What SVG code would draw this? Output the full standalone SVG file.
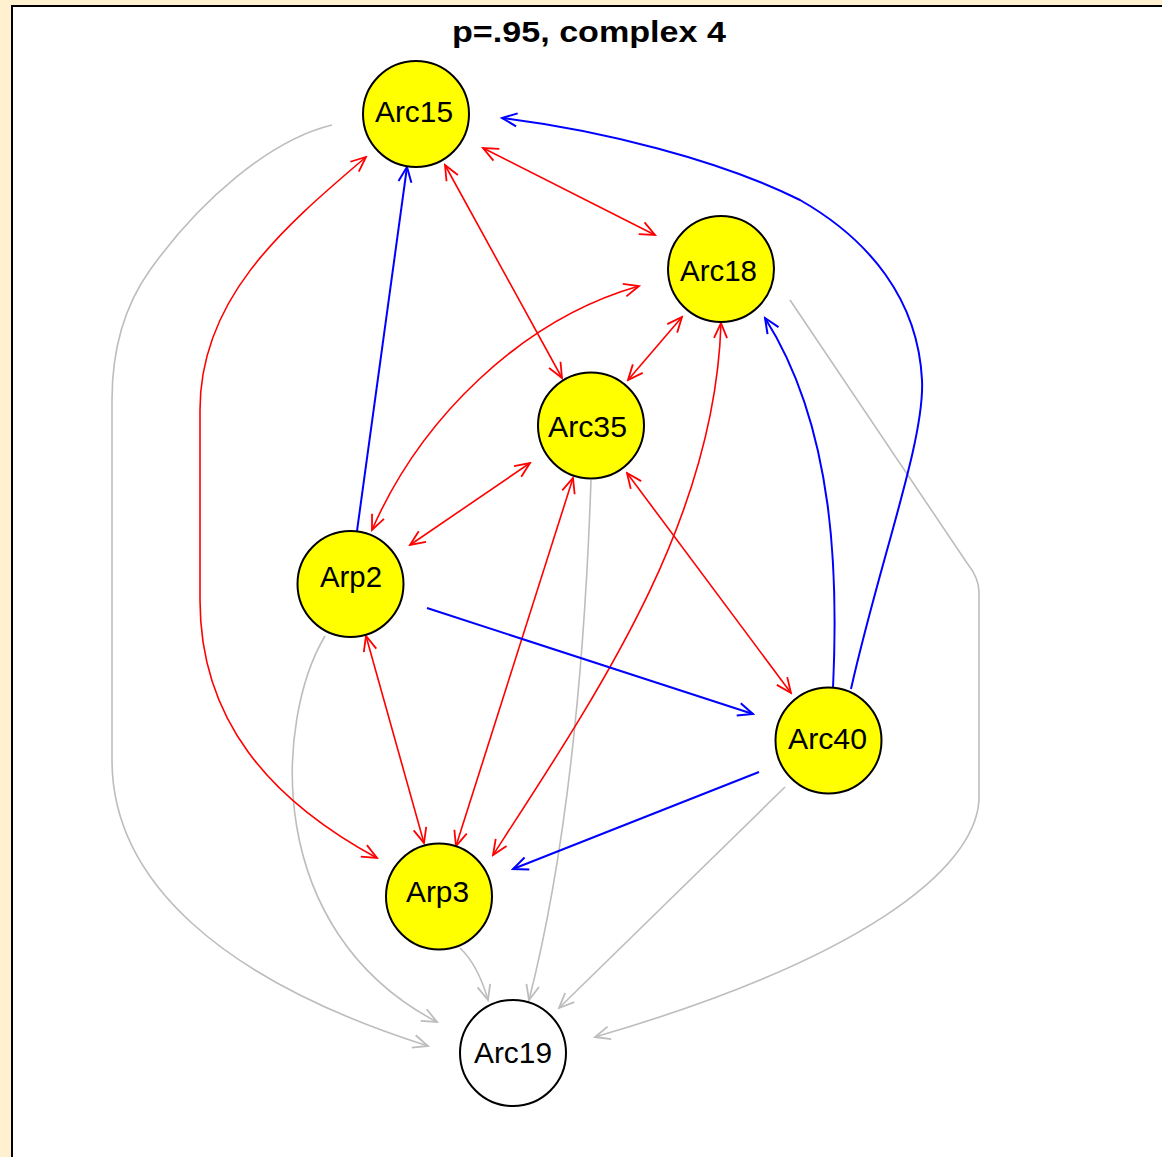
<svg xmlns="http://www.w3.org/2000/svg" width="1162" height="1157" viewBox="0 0 1162 1157">
  <style>
    .edge { fill: none; }
    .red { stroke: #ff0000; stroke-width: 1.6; }
    .blue { stroke: #0000ff; stroke-width: 2; }
    .grey { stroke: #bdbdbd; stroke-width: 1.6; }
    .red.both { marker-start: url(#ahRed); marker-end: url(#ahRed); }
    .blue { marker-end: url(#ahBlue); }
    .grey { marker-end: url(#ahGrey); }
    .node circle { stroke: #000000; stroke-width: 2; }
    .hit circle { fill: #ffff00; }
    .miss circle { fill: #ffffff; }
    .node text { font-family: "Liberation Sans", Arial, sans-serif; font-size: 30px; fill: #000000; text-anchor: middle; }
    .title { font-family: "Liberation Sans", Arial, sans-serif; font-size: 29px; font-weight: bold; fill: #000000; }
  </style>
  <defs>
    <marker id="ahRed" viewBox="-16 -8 18 16" refX="0" refY="0" markerWidth="18" markerHeight="16" markerUnits="userSpaceOnUse" orient="auto-start-reverse">
      <path d="M-15,-6.5 L0,0 L-15,6.5" fill="none" stroke="#ff0000" stroke-width="1.8"/>
    </marker>
    <marker id="ahBlue" viewBox="-16 -8 18 16" refX="0" refY="0" markerWidth="18" markerHeight="16" markerUnits="userSpaceOnUse" orient="auto">
      <path d="M-15,-6.5 L0,0 L-15,6.5" fill="none" stroke="#0000ff" stroke-width="2"/>
    </marker>
    <marker id="ahGrey" viewBox="-16 -8 18 16" refX="0" refY="0" markerWidth="18" markerHeight="16" markerUnits="userSpaceOnUse" orient="auto">
      <path d="M-15,-6.5 L0,0 L-15,6.5" fill="none" stroke="#bdbdbd" stroke-width="1.8"/>
    </marker>
  </defs>

  <!-- frame -->
  <rect x="0" y="0" width="1162" height="1157" fill="#fff0d0"/>
  <rect x="12" y="6" width="1150" height="1151" fill="#ffffff"/>
  <line x1="12" y1="6" x2="12" y2="1157" stroke="#000000" stroke-width="2"/>
  <line x1="11" y1="6" x2="1162" y2="6" stroke="#000000" stroke-width="2"/>

  <text class="title" x="452" y="42" textLength="274" lengthAdjust="spacingAndGlyphs">p=.95, complex 4</text>

  <g id="connectors">
    <!-- grey: links into Arc19 -->
    <path class="edge grey" d="M332,125 C270,140 200,200 150,270 C125,305 112,350 112,400 L112,760 C112,880 220,980 428,1046"/>
    <path class="edge grey" d="M325,636 C275,720 262,930 437,1022"/>
    <path class="edge grey" d="M460,948 Q478,965 488,1000"/>
    <path class="edge grey" d="M591,480 Q580,800 529,1000"/>
    <path class="edge grey" d="M785,787 L559,1008"/>
    <path class="edge grey" d="M790,300 L967,563 Q979,578 979,592 L979,800 C975,870 860,960 595,1037"/>

    <!-- red: mutual links -->
    <path class="edge red both" d="M483,148 L655,235"/>
    <path class="edge red both" d="M445,165 L562,378"/>
    <path class="edge red both" d="M366,157 C280,230 200,300 200,410 L200,600 C200,720 270,800 377,858"/>
    <path class="edge red both" d="M639,286 C520,320 420,420 372,530"/>
    <path class="edge red both" d="M682,317 L628,380"/>
    <path class="edge red both" d="M721,323 C715,520 600,690 493,855"/>
    <path class="edge red both" d="M530,463 L410,545"/>
    <path class="edge red both" d="M573,478 L456,846"/>
    <path class="edge red both" d="M627,473 L791,693"/>
    <path class="edge red both" d="M366,636 L424,843"/>

    <!-- blue: one-way links -->
    <path class="edge blue" d="M357,531 L407,167"/>
    <path class="edge blue" d="M851,689 C880,560 925,440 922,380 C918,300 870,240 800,200 C720,160 600,130 502,118"/>
    <path class="edge blue" d="M833,688 C838,580 836,430 765,318"/>
    <path class="edge blue" d="M427,608 L753,714"/>
    <path class="edge blue" d="M759,772 L513,869"/>
  </g>

  <g id="Arc15" class="node hit">
    <circle cx="416" cy="114" r="53"/>
    <text x="414" y="122" textLength="78" lengthAdjust="spacingAndGlyphs">Arc15</text>
  </g>
  <g id="Arc18" class="node hit">
    <circle cx="721" cy="269" r="53"/>
    <text x="718.5" y="281" textLength="77" lengthAdjust="spacingAndGlyphs">Arc18</text>
  </g>
  <g id="Arc35" class="node hit">
    <circle cx="591" cy="425.5" r="53"/>
    <text x="587.5" y="437" textLength="79" lengthAdjust="spacingAndGlyphs">Arc35</text>
  </g>
  <g id="Arp2" class="node hit">
    <circle cx="350.5" cy="584" r="53"/>
    <text x="351" y="587" textLength="62" lengthAdjust="spacingAndGlyphs">Arp2</text>
  </g>
  <g id="Arc40" class="node hit">
    <circle cx="828.5" cy="740.5" r="53"/>
    <text x="827.5" y="749" textLength="79" lengthAdjust="spacingAndGlyphs">Arc40</text>
  </g>
  <g id="Arp3" class="node hit">
    <circle cx="439" cy="896.5" r="53"/>
    <text x="437.5" y="902" textLength="63" lengthAdjust="spacingAndGlyphs">Arp3</text>
  </g>
  <g id="Arc19" class="node miss">
    <circle cx="513" cy="1053" r="53"/>
    <text x="513" y="1063" textLength="78" lengthAdjust="spacingAndGlyphs">Arc19</text>
  </g>
</svg>
